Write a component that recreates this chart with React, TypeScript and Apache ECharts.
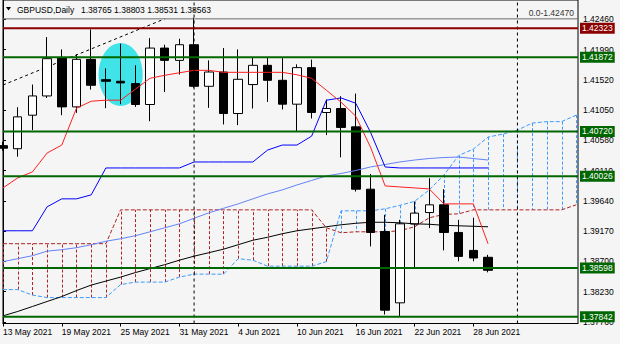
import React, { useEffect, useRef } from 'react';
import * as echarts from 'echarts';

// ---- data ----
const dates = [
  '13 May 2021', '14 May 2021', '17 May 2021', '18 May 2021', '19 May 2021', '20 May 2021', '21 May 2021',
  '24 May 2021', '25 May 2021', '26 May 2021', '27 May 2021', '28 May 2021', '31 May 2021', '1 Jun 2021',
  '2 Jun 2021', '3 Jun 2021', '4 Jun 2021', '7 Jun 2021', '8 Jun 2021', '9 Jun 2021', '10 Jun 2021',
  '11 Jun 2021', '14 Jun 2021', '15 Jun 2021', '16 Jun 2021', '17 Jun 2021', '18 Jun 2021', '21 Jun 2021',
  '22 Jun 2021', '23 Jun 2021', '24 Jun 2021', '25 Jun 2021', '28 Jun 2021', '29 Jun 2021',
];
const opens = [
  1.40500, 1.40452, 1.40973, 1.41272, 1.41861, 1.41102, 1.41841, 1.41525, 1.41500, 1.41464,
  1.41139, 1.42016, 1.41825, 1.42068, 1.41422, 1.41644, 1.40999, 1.41449, 1.41748, 1.41515,
  1.41144, 1.41712, 1.41015, 1.41077, 1.40792, 1.39823, 1.39166, 1.38057, 1.39281, 1.39460,
  1.39580, 1.39151, 1.38872, 1.38765,
];
const closes = [
  1.40460, 1.40947, 1.41272, 1.41851, 1.41102, 1.41841, 1.41438, 1.41500, 1.41475, 1.41139,
  1.42016, 1.41825, 1.42068, 1.41422, 1.41644, 1.40999, 1.41531, 1.41748, 1.41515, 1.41144,
  1.41712, 1.41015, 1.41077, 1.40783, 1.39823, 1.39151, 1.37943, 1.39285, 1.39451, 1.39580,
  1.39151, 1.38779, 1.38754, 1.38563,
];
const lows = [
  1.40420, 1.40328, 1.40741, 1.41240, 1.40973, 1.41009, 1.41371, 1.41082, 1.41144, 1.41102,
  1.40880, 1.41334, 1.41604, 1.41400, 1.41087, 1.40829, 1.40819, 1.41077, 1.41179, 1.41062,
  1.40715, 1.40922, 1.40664, 1.40318, 1.39786, 1.38934, 1.37876, 1.37841, 1.38599, 1.39219,
  1.38872, 1.38702, 1.38702, 1.38531,
];
const highs = [
  1.40560, 1.41097, 1.41449, 1.42186, 1.41995, 1.41918, 1.42305, 1.41701, 1.42084, 1.41748,
  1.42170, 1.42068, 1.42161, 1.42490, 1.41825, 1.42016, 1.41995, 1.41876, 1.41876, 1.41860,
  1.41763, 1.41836, 1.41217, 1.41268, 1.41309, 1.40060, 1.39425, 1.39347, 1.39631, 1.39993,
  1.39823, 1.39347, 1.39380, 1.38803,
];
const tenkan = [
  1.39843, 1.39998, 1.40091, 1.40385, 1.40509, 1.41082, 1.41190, 1.41206, 1.41206, 1.41376,
  1.41546, 1.41593, 1.41632, 1.41670, 1.41670, 1.41639, 1.41639, 1.41639, 1.41639, 1.41639,
  1.41601, 1.41546, 1.41361, 1.41175, 1.40958, 1.40478, 1.39874, 1.39858, 1.39843, 1.39827,
  1.39595, 1.39595, 1.39595, 1.38976,
];
const kijun = [
  1.39177, 1.39177, 1.39177, 1.39549, 1.39673, 1.39673, 1.39735, 1.40153, 1.40153, 1.40153,
  1.40153, 1.40153, 1.40153, 1.40246, 1.40246, 1.40246, 1.40246, 1.40246, 1.40431, 1.40509,
  1.40509, 1.40648, 1.41206, 1.41241, 1.41159, 1.40710, 1.40168, 1.40153, 1.40153, 1.40153,
  1.40153, 1.40153, 1.40153, 1.40153,
];
const maBlue = [
  1.38697, 1.38743, 1.38790, 1.38860, 1.38883, 1.38914, 1.38960, 1.39014, 1.39053, 1.39100,
  1.39161, 1.39223, 1.39285, 1.39371, 1.39456, 1.39526, 1.39595, 1.39673, 1.39750, 1.39812,
  1.39889, 1.39959, 1.40029, 1.40067, 1.40114, 1.40168, 1.40207, 1.40246, 1.40276, 1.40300,
  1.40315, 1.40323, 1.40300, 1.40276,
];
const maBlack = [
  1.37855, 1.37923, 1.38000, 1.38078, 1.38155, 1.38248, 1.38333, 1.38395, 1.38457, 1.38527,
  1.38589, 1.38650, 1.38720, 1.38782, 1.38836, 1.38891, 1.38960, 1.39030, 1.39076, 1.39131,
  1.39177, 1.39208, 1.39239, 1.39270, 1.39293, 1.39309, 1.39309, 1.39301, 1.39285, 1.39278,
  1.39262, 1.39254, 1.39247, 1.39239,
];
const spanA = [
  1.38263, 1.38263, 1.38178, 1.38139, 1.38139, 1.38139, 1.38139, 1.38139, 1.38341, 1.38379,
  1.38379, 1.38379, 1.38457, 1.38503, 1.38503, 1.38503, 1.38743, 1.38720, 1.38627, 1.38627,
  1.38627, 1.38627, 1.38697, 1.39487, 1.39487, 1.39487, 1.39518, 1.39572, 1.39634, 1.39812,
  1.40044, 1.40346, 1.40446, 1.40633, 1.40679, 1.40741, 1.40850, 1.40873, 1.40873, 1.40973,
];
const spanB = [
  1.38976, 1.38976, 1.38976, 1.38976, 1.38976, 1.38976, 1.38976, 1.38976, 1.39502, 1.39502,
  1.39502, 1.39502, 1.39502, 1.39502, 1.39502, 1.39502, 1.39502, 1.39502, 1.39502, 1.39502,
  1.39502, 1.39502, 1.39223, 1.39146, 1.39161, 1.39161, 1.39161, 1.39177, 1.39239, 1.39378,
  1.39432, 1.39440, 1.39502, 1.39502, 1.39502, 1.39502, 1.39502, 1.39502, 1.39502, 1.39580,
];
const yTickLabels = [1.3776, 1.3823, 1.387, 1.3917, 1.3964, 1.4011, 1.4058, 1.4105, 1.4152, 1.4199, 1.4246];
const xTickIdx = [0, 4, 8, 12, 16, 20, 24, 28, 32];
const greenLevels = [1.41872, 1.4072, 1.40026, 1.38598, 1.37842];
const redLevel = 1.42323;
const fiboZero = 1.4247;
const trendLine = [[0, 1.41442], [11, 1.4247]];
const separators = [13, 35];
const highlightCenter = [8, 1.41605];
const symbolName = 'GBPUSD,Daily';

// ---- axis extents & styling ----
const X_MIN = 0;
const X_MAX = 39.12;
const Y_MIN = 1.37736;
const Y_MAX = 1.42763;
const FONT = 'Liberation Sans';
const FS = 8.5;
const GREEN = '#006600';
const DARKRED = '#8b0000';
const CLOUD_BLUE = '#3d9bff';
const CLOUD_RED = '#b22222';
const BG = '#f5f5f5';

export default function App() {
  const ref = useRef<HTMLDivElement>(null);

  useEffect(() => {
    document.body.style.margin = '0';
    if (!ref.current) return;
    const chart = echarts.init(ref.current, undefined, { renderer: 'svg' });
    const last = opens.length - 1;
    const ohlcText = [opens[last], highs[last], lows[last], closes[last]].map((v) => v.toFixed(5)).join(' ');
    const pairs = (arr: number[]) => arr.map((v, i) => [i, v]);

    const levelSeries = (v: number, color: string) => ({
      type: 'line',
      silent: true,
      z: 5,
      symbol: 'none',
      clip: false,
      data: [[X_MIN, v], [X_MAX, v]],
      lineStyle: { color, width: 2 },
      endLabel: {
        show: true,
        formatter: v.toFixed(5),
        backgroundColor: color,
        color: '#ffffff',
        padding: [1, 2, 1, 2],
        fontSize: FS,
        lineHeight: 9,
        fontFamily: FONT,
        distance: 2,
      },
    });

    const option: any = {
      animation: false,
      backgroundColor: BG,
      textStyle: { fontFamily: FONT, fontSize: FS },
      grid: {
        left: 3, right: 42, top: 0, bottom: 20.5,
        show: true, borderColor: '#000', borderWidth: 1, backgroundColor: 'transparent',
      },
      xAxis: {
        type: 'value',
        min: X_MIN,
        max: X_MAX,
        axisLine: { show: true, lineStyle: { color: '#000', width: 1 } },
        axisTick: { show: true, customValues: xTickIdx, length: 3, lineStyle: { color: '#000' } },
        axisLabel: {
          customValues: xTickIdx,
          formatter: (v: number) => dates[Math.round(v)] || '',
          align: 'left',
          margin: 4,
          color: '#000',
          fontSize: FS,
          fontFamily: FONT,
        },
        splitLine: { show: false },
      },
      yAxis: {
        type: 'value',
        position: 'right',
        min: Y_MIN,
        max: Y_MAX,
        axisLine: { show: true, lineStyle: { color: '#000', width: 1 } },
        axisTick: { show: true, customValues: yTickLabels, length: 3, lineStyle: { color: '#000' } },
        axisLabel: {
          customValues: yTickLabels,
          formatter: (v: number) => v.toFixed(5),
          margin: 5,
          color: '#000',
          fontSize: FS,
          fontFamily: FONT,
        },
        splitLine: { show: false },
      },
      graphic: [
        { type: 'polygon', z: 10, shape: { points: [[6, 7], [11, 7], [8.5, 10.5]] }, style: { fill: '#000' } },
        { type: 'text', z: 10, x: 17, y: 9.5, style: { text: symbolName, fill: '#000', fontSize: FS, fontFamily: FONT, verticalAlign: 'middle' } },
        { type: 'text', z: 10, x: 81, y: 9.5, style: { text: ohlcText, fill: '#000', fontSize: FS, fontFamily: FONT, verticalAlign: 'middle' } },
      ],
      series: [
        // cloud hatching
        {
          type: 'custom',
          silent: true,
          z: 1,
          clip: true,
          encode: { x: 0, y: [1, 2] },
          data: spanA.map((a, i) => [i, a, spanB[i]]),
          renderItem: (_p: any, api: any) => {
            const x = api.value(0);
            const a = api.value(1);
            const b = api.value(2);
            const p1 = api.coord([x, a]);
            const p2 = api.coord([x, b]);
            const px = Math.round(p1[0]) + 0.5;
            return {
              type: 'line',
              shape: { x1: px, y1: p1[1], x2: px, y2: p2[1] },
              style: { stroke: a > b ? CLOUD_BLUE : CLOUD_RED, lineWidth: 1, lineDash: [3, 2] },
            };
          },
        },
        { type: 'line', silent: true, z: 1, data: pairs(spanA), symbol: 'none', lineStyle: { color: CLOUD_BLUE, width: 1, type: [4, 2] } },
        { type: 'line', silent: true, z: 1, data: pairs(spanB), symbol: 'none', lineStyle: { color: CLOUD_RED, width: 1, type: [4, 2] } },
        // fibo trend line
        { type: 'line', silent: true, z: 1, data: trendLine, symbol: 'none', lineStyle: { color: '#000', width: 1, type: [3, 3] } },
        // highlight ellipse
        {
          type: 'custom',
          silent: true,
          z: 2,
          clip: true,
          data: [highlightCenter],
          encode: { x: 0, y: 1 },
          renderItem: (_p: any, api: any) => {
            const c = api.coord([api.value(0), api.value(1)]);
            const s = api.size([3.0, 0.00979], [api.value(0), api.value(1)]);
            return { type: 'ellipse', shape: { cx: c[0], cy: c[1], rx: s[0] / 2, ry: s[1] / 2 }, style: { fill: '#3fe3e8' } };
          },
        },
        // candles
        {
          type: 'candlestick',
          silent: true,
          z: 3,
          clip: true,
          barWidth: 9,
          data: opens.map((o, i) => [i, o, closes[i], lows[i], highs[i]]),
          itemStyle: { color: '#ffffff', color0: '#000000', borderColor: '#000000', borderColor0: '#000000', borderWidth: 1 },
        },
        // indicator lines
        { type: 'line', silent: true, z: 4, data: pairs(maBlack), symbol: 'none', lineStyle: { color: '#000', width: 1 } },
        { type: 'line', silent: true, z: 4, data: pairs(maBlue), symbol: 'none', lineStyle: { color: '#6383f5', width: 1 } },
        { type: 'line', silent: true, z: 4, data: pairs(kijun), symbol: 'none', lineStyle: { color: '#0000ff', width: 1 } },
        { type: 'line', silent: true, z: 4, data: pairs(tenkan), symbol: 'none', lineStyle: { color: '#ff2020', width: 1 } },
        // period separators
        ...separators.map((x) => ({
          type: 'line', silent: true, z: 5, symbol: 'none',
          data: [[x, Y_MIN], [x, Y_MAX]],
          lineStyle: { color: '#000', width: 1, type: [3, 3] },
        })),
        // fibo 0.0 level
        {
          type: 'line', silent: true, z: 5, symbol: 'none', clip: false,
          data: [[X_MIN, fiboZero], [X_MAX, fiboZero]],
          lineStyle: { color: '#6b6b6b', width: 1 },
          endLabel: {
            show: true,
            formatter: '0.0-' + fiboZero.toFixed(5),
            align: 'right',
            verticalAlign: 'bottom',
            offset: [-4, -1],
            distance: 0,
            color: '#333',
            fontSize: FS,
            fontFamily: FONT,
          },
        },
        levelSeries(redLevel, DARKRED),
        ...greenLevels.map((v) => levelSeries(v, GREEN)),
      ],
    };
    chart.setOption(option);
    return () => chart.dispose();
  }, []);

  return <div ref={ref} style={{ width: 620, height: 344 }} />;
}
